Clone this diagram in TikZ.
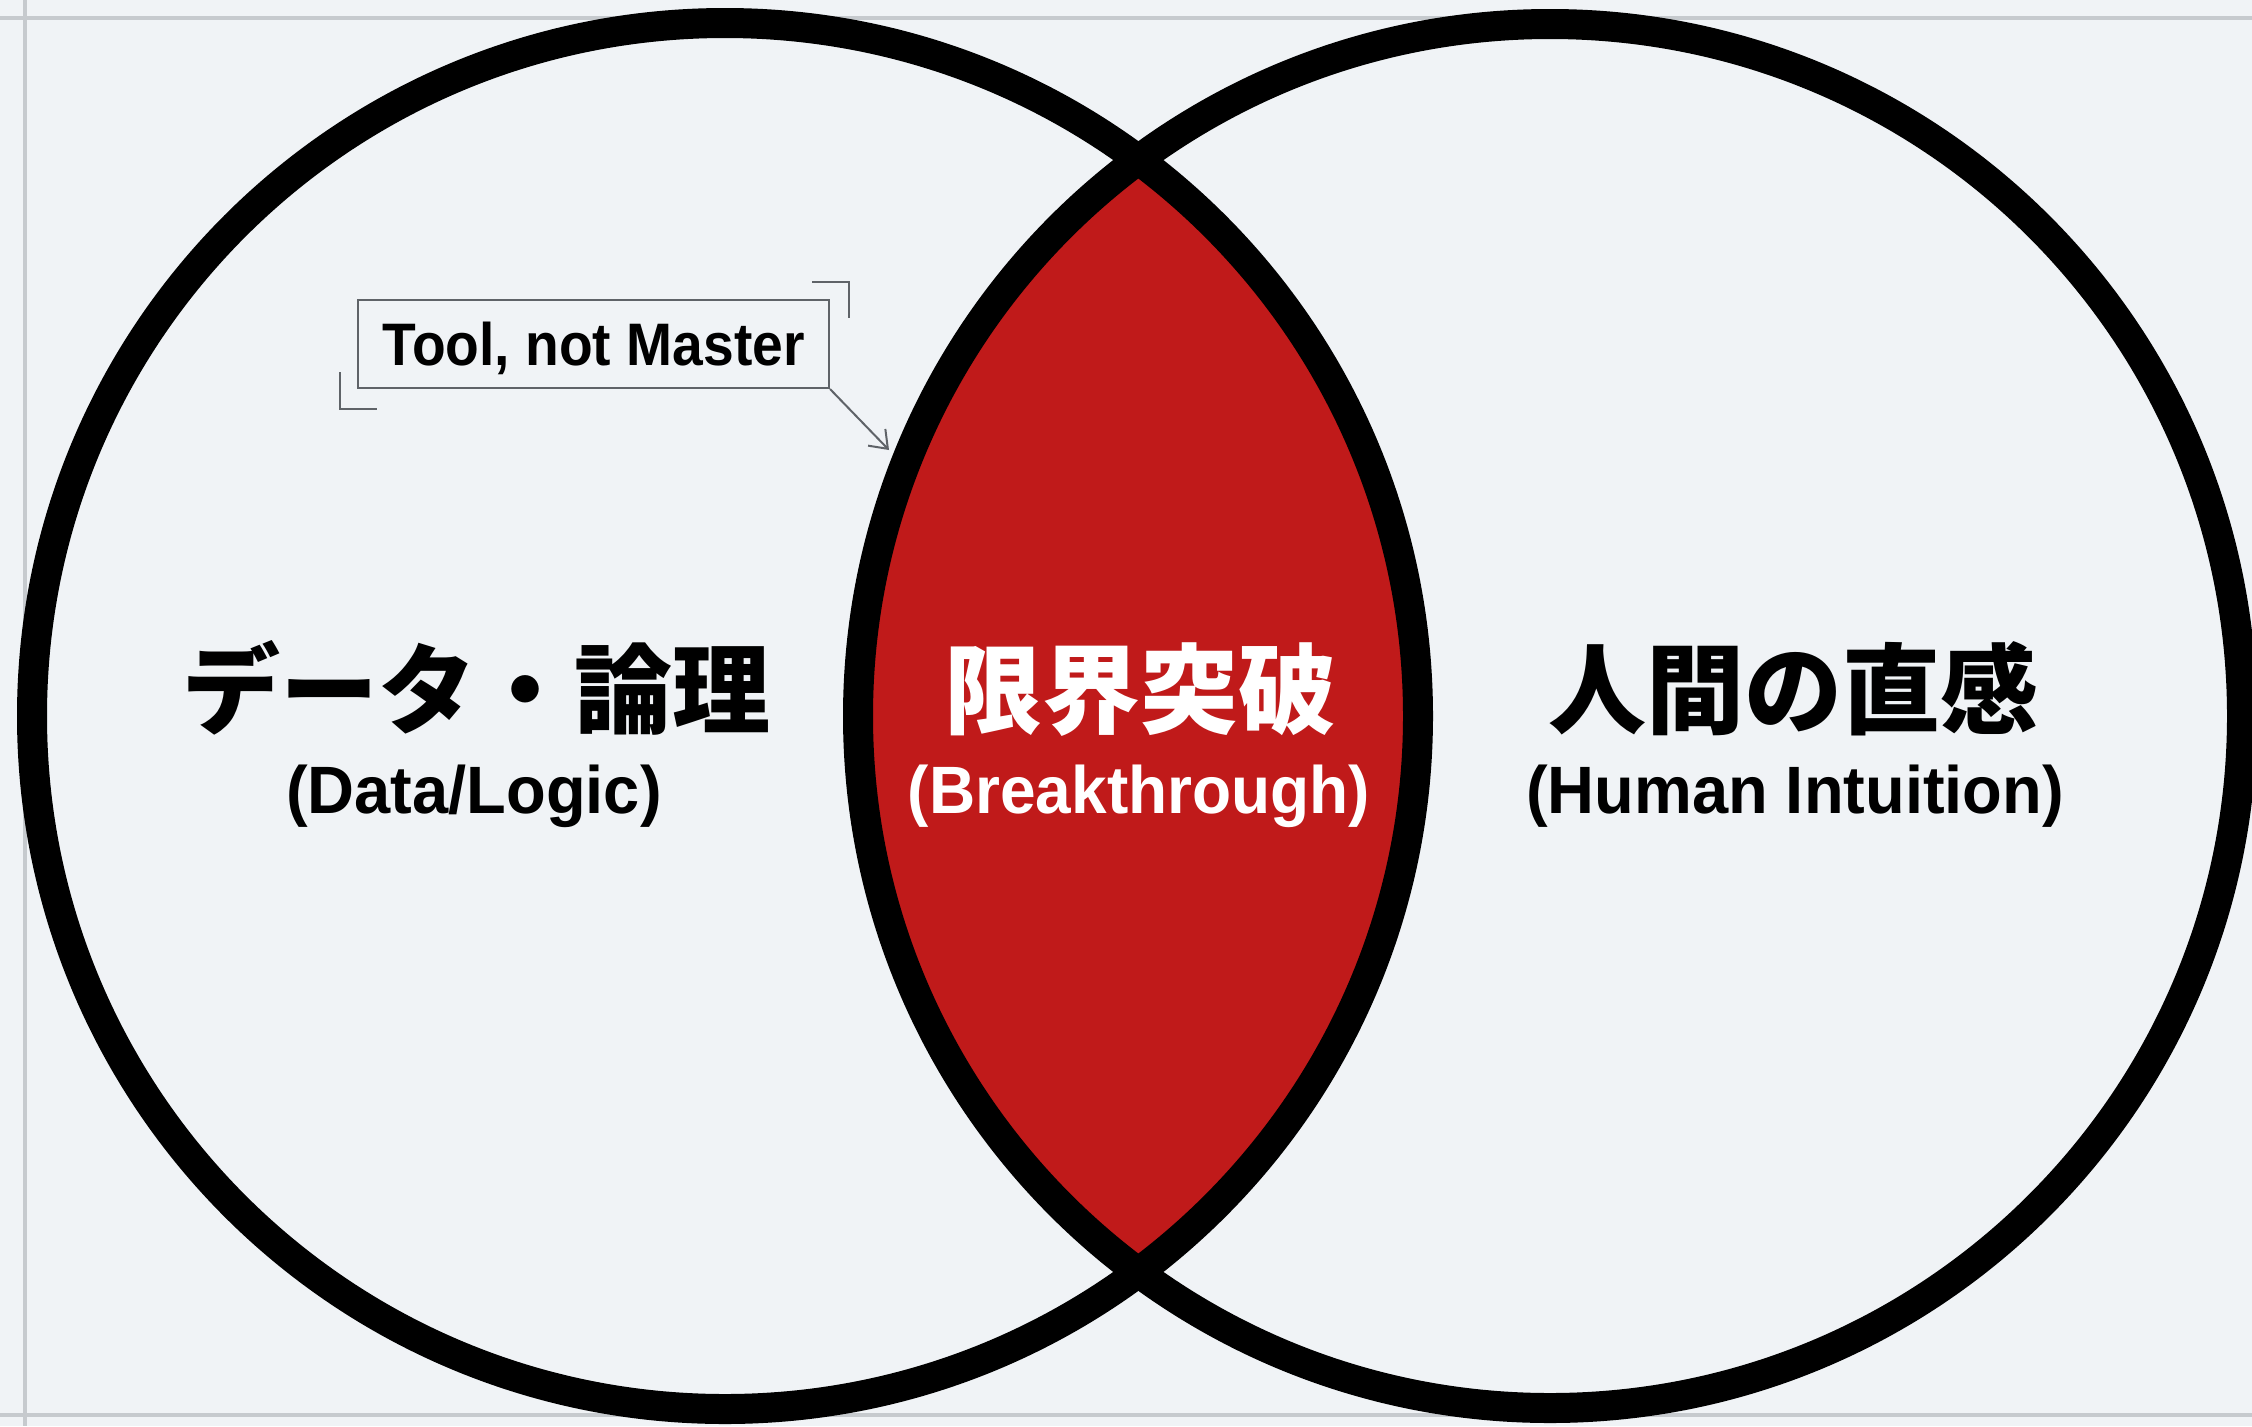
\documentclass[tikz,border=0pt]{standalone}
\usepackage{fontspec}
\usetikzlibrary{arrows.meta}
\newfontfamily\jpfont{Noto Sans CJK JP}
\newfontfamily\latlab{Liberation Sans}[FakeStretch=0.97]
\newfontfamily\latmid{Liberation Sans}[FakeStretch=0.955]
\newfontfamily\latcall{Liberation Sans}[FakeStretch=0.92]
\definecolor{bgcol}{HTML}{F0F3F6}
\definecolor{gridcol}{HTML}{C6CACE}
\definecolor{lensred}{RGB}{192,26,26}
\definecolor{callgray}{HTML}{5F6368}
\tikzset{
  ring/.style={draw=black, line width=15pt},
  jpsidetext/.style={anchor=base, font=\jpfont\bfseries\fontsize{49pt}{58pt}\selectfont},
  jpmidtext/.style={anchor=base, text=white, font=\jpfont\bfseries\fontsize{49pt}{58pt}\selectfont},
  ensidetext/.style={anchor=base, font=\latlab\bfseries\fontsize{33.5pt}{40pt}\selectfont},
  enmidtext/.style={anchor=base, text=white, font=\latmid\bfseries\fontsize{33.5pt}{40pt}\selectfont},
  callbox/.style={draw=callgray, line width=1pt, fill=bgcol, inner sep=0pt,
    minimum width=235.5pt, minimum height=44pt, text height=21.5pt, text depth=0pt,
    font=\latcall\bfseries\fontsize{30pt}{36pt}\selectfont},
  callline/.style={draw=callgray, line width=1pt},
  gridline/.style={draw=gridcol, line width=1.6pt}
}
\begin{document}
\begin{tikzpicture}[x=0.5pt, y=-0.5pt]
\useasboundingbox (0,0) rectangle (2252,1426);
\fill[bgcol] (0,0) rectangle (2252,1426);
% faint page lines
\draw[gridline] (0,18) -- (2252,18);
\draw[gridline] (0,1415) -- (2252,1415);
\draw[gridline] (25,0) -- (25,1426);
% lens
\begin{scope}
  \clip (725,716) circle[radius=693];
  \fill[lensred] (1550,716) circle[radius=692];
\end{scope}
% circles
\draw[ring] (725,716) circle[radius=693];
\draw[ring] (1550,716) circle[radius=692];
% labels
\node[jpsidetext] (ljp) at (476,726) {データ・論理};
\node[ensidetext] (len) at (474,813) {(Data/Logic)};
\node[jpmidtext] (mjp) at (1140,726) {限界突破};
\node[enmidtext] (men) at (1139,813) {(Breakthrough)};
\node[jpsidetext] (rjp) at (1793,726) {人間の直感};
\node[ensidetext] (ren) at (1795,813) {(Human Intuition)};
% callout
\node[callbox] (call) at (593.5,344) {Tool, not Master};
\coordinate (calltip) at (889,450);
\draw[callline, -{Straight Barb[length=8pt,width=12pt]}] (call.south east) -- (calltip);
\draw[callline] (812,282) -- (849,282) -- (849,318);
\draw[callline] (340,372) -- (340,409) -- (377,409);
\end{tikzpicture}
\end{document}
